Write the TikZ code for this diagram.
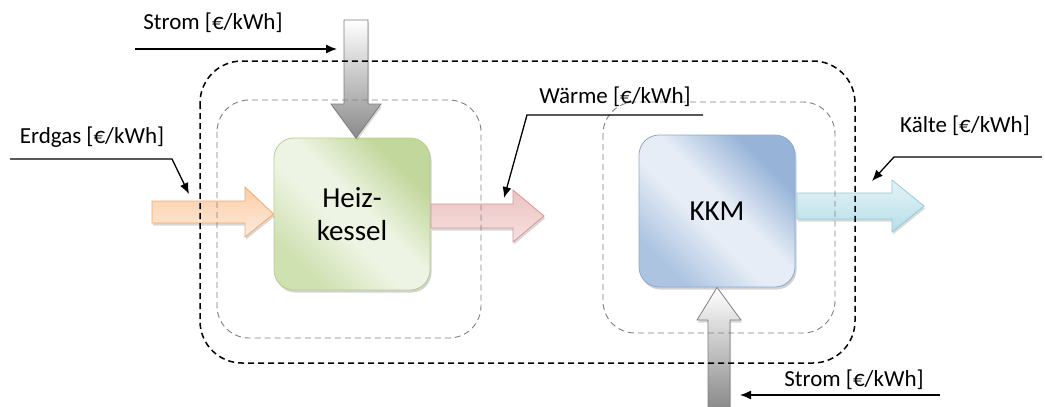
\documentclass[tikz,border=0pt]{standalone}
\usepackage{fontspec}
\setmainfont{Carlito}
\usetikzlibrary{arrows.meta,shadows}

\definecolor{greenlight}{HTML}{EEF4E3}
\definecolor{greendark}{HTML}{C2D79B}
\definecolor{greenmid}{HTML}{CFE0B1}
\definecolor{greenedge}{HTML}{B7CF8C}
\definecolor{bluelight}{HTML}{E6EDF6}
\definecolor{bluedark}{HTML}{97B4D8}
\definecolor{bluemid}{HTML}{ADC4E1}
\definecolor{blueedge}{HTML}{8DA9D0}
\definecolor{orangetop}{HTML}{FBCDA6}
\definecolor{orangebot}{HTML}{FDEBDC}
\definecolor{orangeedge}{HTML}{F6A96B}
\definecolor{pinktop}{HTML}{EBC3C2}
\definecolor{pinkbot}{HTML}{F6E0E0}
\definecolor{pinkedge}{HTML}{D99594}
\definecolor{cyantop}{HTML}{E4F3F7}
\definecolor{cyanbot}{HTML}{B7DEE8}
\definecolor{cyanedge}{HTML}{92CDDC}
\definecolor{graydark}{HTML}{8A8A8A}
\definecolor{grayedge}{HTML}{7F7F7F}
\definecolor{innerdash}{HTML}{808080}

% soft diagonal body shadings with a light band across the middle
\pgfdeclareverticalshading{greenbody}{100bp}{color(0bp)=(greenmid); color(26bp)=(greenmid);
  color(44bp)=(greenlight); color(54bp)=(greenlight); color(72bp)=(greendark); color(100bp)=(greendark)}
\pgfdeclareverticalshading{bluebody}{100bp}{color(0bp)=(bluemid); color(26bp)=(bluemid);
  color(44bp)=(bluelight); color(54bp)=(bluelight); color(72bp)=(bluedark); color(100bp)=(bluedark)}

\tikzset{
  procbox/.style={draw, line width=0.8pt, rounded corners=20pt, align=center,
    minimum width=156pt, minimum height=152pt, inner sep=0pt,
    font=\fontsize{29}{33}\selectfont,
    drop shadow={opacity=0.35, shadow xshift=1.5pt, shadow yshift=-2.5pt}},
  greenbox/.style={procbox, draw=greenedge, shading=greenbody, shading angle=-45},
  bluebox/.style={procbox, draw=blueedge, shading=bluebody, shading angle=-45},
  blockarrow/.style={line width=0.8pt, line join=miter,
    drop shadow={opacity=0.3, shadow xshift=1pt, shadow yshift=-2.5pt}},
  outerframe/.style={draw=black, line width=1.5pt, dash pattern=on 6pt off 4pt,
    rounded corners=42pt},
  innerframe/.style={draw=innerdash, line width=0.9pt, dash pattern=on 6pt off 4pt,
    rounded corners=32pt},
  notelabel/.style={inner sep=0pt, font=\fontsize{23}{27}\selectfont},
  noteline/.style={draw=black, line width=1.3pt,
    -{Latex[length=11pt,width=9pt]}}
}

\begin{document}
\begin{tikzpicture}[x=1pt, y=-1pt]
\useasboundingbox[fill=white] (0,0) rectangle (1045,407);

% process boxes
\node[greenbox] (heiz) at (352,214) {Heiz-\\kessel};
\node[bluebox] (kkm) at (717,211) {KKM};

% block arrows: Erdgas in, Wärme out, Kälte out
\path[blockarrow, draw=orangeedge, top color=orangetop, bottom color=orangebot]
  (152,201) -- (245,201) -- (245,187) -- (heiz.west) -- (245,237) -- (245,223)
  -- (152,223) -- cycle;
\path[blockarrow, draw=pinkedge, top color=pinktop, bottom color=pinkbot]
  (431,204) -- (513,204) -- (513,190) -- (544,216) -- (513,242) -- (513,228)
  -- (431,228) -- cycle;
\path[blockarrow, draw=cyanedge, top color=cyantop, bottom color=cyanbot]
  (797,193) -- (892,193) -- (892,180) -- (924,206) -- (892,232) -- (892,219)
  -- (797,219) -- cycle;

% block arrows: electricity into both units
\path[blockarrow, draw=grayedge, top color=white, bottom color=graydark]
  (344,20) -- (368,20) -- (368,104) -- (381,104) -- (356,138) -- (331,104)
  -- (344,104) -- cycle;
\path[blockarrow, draw=grayedge, top color=white, bottom color=graydark]
  (708,408) -- (708,320) -- (697,320) -- (kkm.south) -- (741,320) -- (730,320)
  -- (730,408) -- cycle;

% balance boundaries
\path[outerframe] (200,61) rectangle (855,363);
\path[innerframe] (217,100) rectangle (481,338);
\path[innerframe] (603,102) rectangle (835,333);

% price labels with pointers
\node[notelabel] (lstromtop) at (213,23) {Strom [€/kWh]};
\coordinate (stromtopstart) at (135,49);
\coordinate (stromtopend) at (337,49);
\draw[noteline] (stromtopstart) -- (stromtopend);

\node[notelabel] (lerdgas) at (92,137) {Erdgas [€/kWh]};
\coordinate (erdgasstart) at (10,159);
\coordinate (erdgasend) at (189,194);
\draw[noteline] (erdgasstart) -- (172,159) -- (erdgasend);

\node[notelabel] (lwaerme) at (615,97) {Wärme [€/kWh]};
\coordinate (waermestart) at (703,115);
\coordinate (waermeend) at (504,198);
\draw[noteline] (waermestart) -- (527,115) -- (waermeend);

\node[notelabel] (lkaelte) at (965,126) {Kälte [€/kWh]};
\coordinate (kaeltestart) at (1042,157);
\coordinate (kaelteend) at (872,181);
\draw[noteline] (kaeltestart) -- (894,157) -- (kaelteend);

\node[notelabel] (lstrombot) at (854,380) {Strom [€/kWh]};
\coordinate (strombotstart) at (940,395);
\coordinate (strombotend) at (740,395);
\draw[noteline] (strombotstart) -- (strombotend);
\end{tikzpicture}
\end{document}
